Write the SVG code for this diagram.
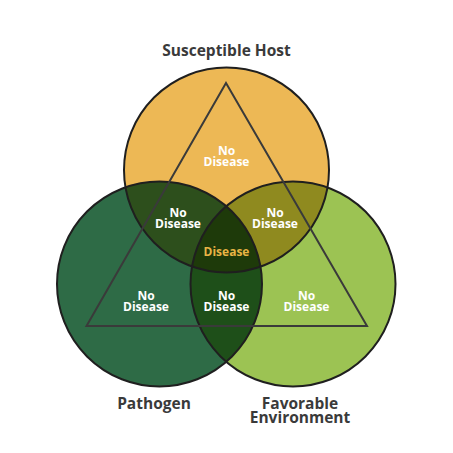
<svg xmlns="http://www.w3.org/2000/svg" width="453" height="453" viewBox="0 0 453 453">
<style>
.title{font-family:"Open Sans","Noto Sans","DejaVu Sans",sans-serif;font-weight:700;font-size:15.5px;fill:#3a3a3a;text-anchor:middle}
.lbl{font-family:"Open Sans","Noto Sans","DejaVu Sans",sans-serif;font-weight:700;font-size:12px;fill:#ffffff;text-anchor:middle}
.dis{fill:#e8b445}
.ring{fill:none;stroke:#1f1f1f;stroke-width:2}
</style>
<defs>
<clipPath id="cA"><circle cx="226.5" cy="170" r="102.5"/></clipPath>
<clipPath id="cB"><circle cx="159.5" cy="284" r="102.5"/></clipPath>
</defs>
<rect width="453" height="453" fill="#ffffff"/>
<g id="host"><circle cx="226.5" cy="170" r="102.5" fill="#edb855"/></g>
<g id="pathogen"><circle cx="159.5" cy="284" r="102.5" fill="#2e6b46"/></g>
<g id="environment"><circle cx="293" cy="284" r="102.5" fill="#9cc353"/></g>
<g id="host-pathogen"><circle cx="159.5" cy="284" r="102.5" fill="#2d4f1c" clip-path="url(#cA)"/></g>
<g id="host-environment"><circle cx="293" cy="284" r="102.5" fill="#8f8a1f" clip-path="url(#cA)"/></g>
<g id="pathogen-environment"><circle cx="293" cy="284" r="102.5" fill="#1e4f19" clip-path="url(#cB)"/></g>
<g id="disease-core" clip-path="url(#cB)"><circle cx="293" cy="284" r="102.5" fill="#1e3a0a" clip-path="url(#cA)"/></g>
<g id="outlines">
<circle class="ring" cx="226.5" cy="170" r="102.5"/>
<circle class="ring" cx="159.5" cy="284" r="102.5"/>
<circle class="ring" cx="293" cy="284" r="102.5"/>
</g>
<g id="connectors"><polygon points="226,83 86.5,326 367,326" fill="none" stroke="#3a3a3a" stroke-width="2" stroke-linejoin="miter"/></g>
<g id="labels">
<text class="title" x="226.5" y="56">Susceptible Host</text>
<text class="title" x="154" y="409">Pathogen</text>
<text class="title"><tspan x="300" y="408.5">Favorable</tspan><tspan x="300" y="422.5">Environment</tspan></text>
<text class="lbl"><tspan x="226.5" y="155">No</tspan><tspan x="226.5" y="166">Disease</tspan></text>
<text class="lbl"><tspan x="178" y="216.5">No</tspan><tspan x="178" y="227.5">Disease</tspan></text>
<text class="lbl"><tspan x="275" y="216.5">No</tspan><tspan x="275" y="227.5">Disease</tspan></text>
<text class="lbl dis" x="226.5" y="256">Disease</text>
<text class="lbl"><tspan x="146" y="300">No</tspan><tspan x="146" y="311">Disease</tspan></text>
<text class="lbl"><tspan x="226.5" y="300">No</tspan><tspan x="226.5" y="311">Disease</tspan></text>
<text class="lbl"><tspan x="306.5" y="300">No</tspan><tspan x="306.5" y="311">Disease</tspan></text>
</g>
</svg>
